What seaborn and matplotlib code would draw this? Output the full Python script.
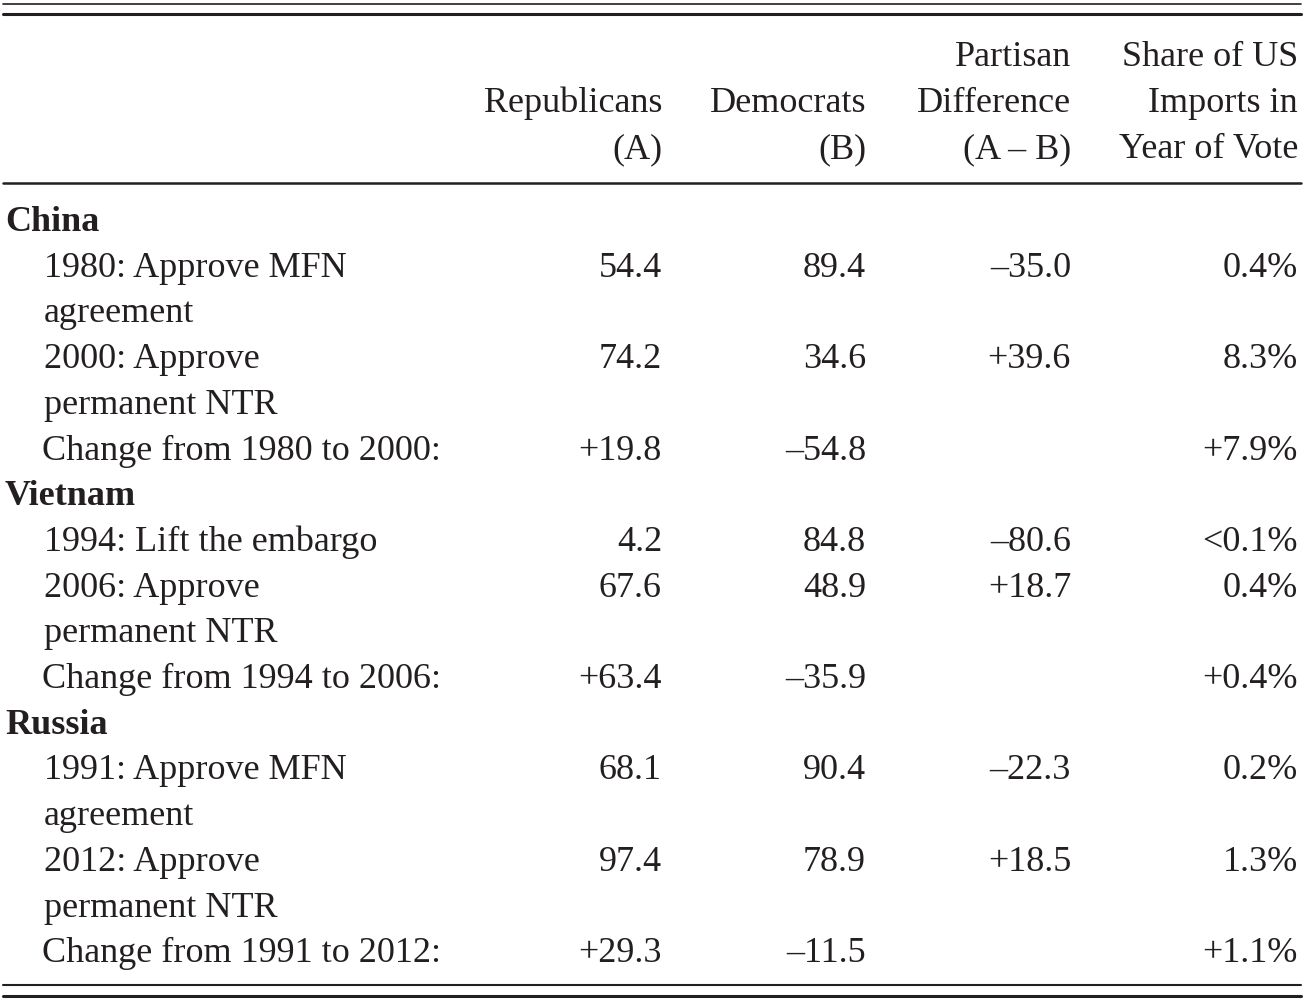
import matplotlib
matplotlib.use("Agg")
import matplotlib.pyplot as plt
import seaborn as sns

# donnees du tableau
headers = ["Republicans\n(A)", "Democrats\n(B)",
           "Partisan\nDifference\n(A – B)", "Share of US\nImports in\nYear of Vote"]
countries = ["China", "Vietnam", "Russia"]
votes = [
    ["1980: Approve MFN\nagreement", "2000: Approve\npermanent NTR"],
    ["1994: Lift the embargo", "2006: Approve\npermanent NTR"],
    ["1991: Approve MFN\nagreement", "2012: Approve\npermanent NTR"],
]
change_labels = ["Change from 1980 to 2000:",
                 "Change from 1994 to 2006:",
                 "Change from 1991 to 2012:"]
republicans = [[54.4, 74.2], [4.2, 67.6], [68.1, 97.4]]
democrats = [[89.4, 34.6], [84.8, 48.9], [90.4, 78.9]]
partisan_diff = [[-35.0, 39.6], [-80.6, 18.7], [-22.3, 18.5]]
import_share = [["0.4%", "8.3%"], ["<0.1%", "0.4%"], ["0.2%", "1.3%"]]
rep_change = [19.8, 63.4, 29.3]
dem_change = [-54.8, -35.9, -11.5]
share_change = ["+7.9%", "+0.4%", "+1.1%"]


def signed(v):
    return ("+" if v > 0 else "–") + f"{abs(v):.1f}"


sns.set_theme(style="white")
plt.rcParams["font.family"] = ["Liberation Serif", "DejaVu Serif"]

W, H = 1305, 1001
fig = plt.figure(figsize=(W / 100, H / 100), dpi=100)
ax = fig.add_axes([0, 0, 1, 1])
ax.set_xlim(0, W)
ax.set_ylim(H, 0)
ax.axis("off")

fs = 26
col_right = [662, 866, 1071, 1298]
x_group = 5
x_vote = 44
x_change = 42
step = 45.7
color = "#231f20"

# en-tetes (alignes en bas)
head_base = 158.5
for xr, h in zip(col_right, headers):
    lines = h.split("\n")
    for k, line in enumerate(reversed(lines)):
        ax.text(xr, head_base - k * 46, line, ha="right", va="baseline",
                fontsize=fs, color=color)

# corps
y = 231
for g in range(len(countries)):
    ax.text(x_group, y, countries[g], ha="left", va="baseline",
            fontsize=fs, fontweight="bold", color=color)
    y += step
    for j in range(2):
        vals = [f"{republicans[g][j]:.1f}", f"{democrats[g][j]:.1f}",
                signed(partisan_diff[g][j]), import_share[g][j]]
        for xr, v in zip(col_right, vals):
            ax.text(xr, y, v, ha="right", va="baseline", fontsize=fs, color=color)
        for line in votes[g][j].split("\n"):
            ax.text(x_vote, y, line, ha="left", va="baseline", fontsize=fs, color=color)
            y += step
    ax.text(x_change, y, change_labels[g], ha="left", va="baseline", fontsize=fs, color=color)
    ch = [signed(rep_change[g]), signed(dem_change[g]), "", share_change[g]]
    for xr, v in zip(col_right, ch):
        ax.text(xr, y, v, ha="right", va="baseline", fontsize=fs, color=color)
    y += step

# filets
x0, x1 = 3 / W, 1301 / W
for yy, lw in [(4, 1.2), (14, 2.2), (183, 1.8), (985, 1.5), (996, 2.2)]:
    ax.axhline(yy, xmin=x0, xmax=x1, color=color, lw=lw)

fig.savefig("out.png", dpi=100, facecolor="white")
